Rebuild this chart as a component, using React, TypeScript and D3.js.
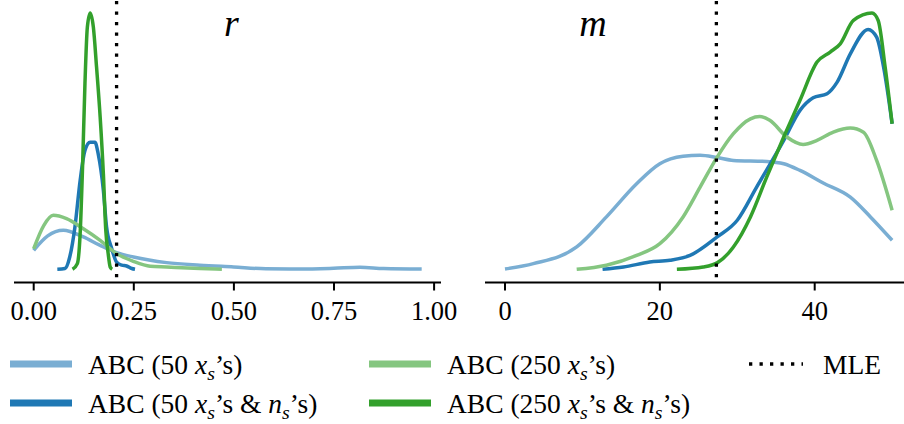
import React from "react";
import * as d3 from "d3";

// ---------- data ----------
const seriesLabels = ["ABC (50 xs's)", "ABC (50 xs's & ns's)", "ABC (250 xs's)", "ABC (250 xs's & ns's)"];
const seriesCounts = ["50", "50", "250", "250"];
const seriesWithN = [false, true, false, true];
const seriesColors = ["#7aaed3", "#1f78b4", "#85c680", "#33a02c"];

const rTicks = [0, 0.25, 0.5, 0.75, 1.0];
const mTicks = [0, 20, 40];
const rMLE = 0.207;
const mMLE = 27.3;

// panel r
const rA_x = [0, 0.035, 0.074, 0.124, 0.166, 0.207, 0.249, 0.332, 0.415, 0.499, 0.58, 0.665, 0.749, 0.815, 0.874, 0.969];
const rA_y = [7.4, 13.0, 15.2, 12.6, 9.3, 6.5, 4.8, 2.6, 1.6, 0.9, 0.2, 0.1, 0.4, 0.8, 0.3, 0.1];
const rB_x = [0.059, 0.078, 0.09, 0.103, 0.116, 0.128, 0.141, 0.153, 0.161, 0.174, 0.182, 0.195, 0.207, 0.22, 0.232, 0.245, 0.253];
const rB_y = [0, 0.3, 4.8, 16.5, 34.6, 46.3, 49.5, 49.5, 45, 30.7, 16.5, 8.0, 2.8, 1.6, 1.3, 0.3, 0];
const rC_x = [0, 0.025, 0.049, 0.082, 0.124, 0.166, 0.207, 0.249, 0.291, 0.332, 0.415, 0.47];
const rC_y = [8.0, 17.0, 21, 19.7, 15.8, 11.3, 6.1, 3.1, 1.2, 0.9, 0.3, 0];
const rD_x = [0.097, 0.109, 0.116, 0.122, 0.128, 0.134, 0.141, 0.149, 0.157, 0.166, 0.174, 0.18, 0.186, 0.191, 0.196];
const rD_y = [0, 2.2, 13.9, 39.8, 72.3, 94.3, 99.8, 94.3, 78.7, 59.3, 37.2, 15.2, 6.1, 0.9, 0];

// panel m
const mA_x = [0, 3.66, 9.26, 13.1, 17.0, 20.0, 23.0, 25.2, 27.4, 29.5, 33.8, 36.0, 38.1, 41.1, 44.6, 47.2, 50.0];
const mA_y = [0.1, 2.2, 8.7, 20.4, 33.3, 41.1, 44, 44.4, 43.5, 42.4, 42, 41.1, 38.5, 33.6, 28.1, 20.4, 11.3];
const mB_x = [12.6, 15.3, 18.7, 21.3, 23.9, 27.4, 30.0, 32.5, 36.0, 38.1, 39.8, 41.6, 42.9, 44.6, 46.9, 48.0, 48.9, 50.0];
const mB_y = [0, 0.9, 2.8, 3.5, 5.4, 12.6, 19.1, 32, 50.2, 61.9, 66.8, 68.4, 72.9, 83.9, 93.4, 90.4, 78.7, 56.7];
const mC_x = [9.26, 13.1, 17.0, 20.0, 23.0, 25.2, 27.4, 29.5, 31.7, 32.9, 34.2, 36.4, 38.5, 40.3, 42.4, 44.6, 46.3, 48.0, 50.0];
const mC_y = [0, 1.6, 5.4, 10, 20.4, 32, 43.7, 52.8, 58.6, 59.5, 58, 51.5, 48.6, 50.2, 53.4, 55, 53.4, 42.4, 23];
const mD_x = [22.2, 25.6, 27.4, 29.5, 31.7, 33.8, 36.0, 38.1, 40.3, 42.0, 43.3, 45.0, 47.4, 48.2, 49.1, 50.0];
const mD_y = [0, 0.9, 2.5, 8.7, 20.4, 35.9, 51.5, 65.8, 80.7, 84.6, 87.8, 96.9, 99.8, 96.9, 78.7, 56.7];

const rSeries = [[rA_x, rA_y], [rB_x, rB_y], [rC_x, rC_y], [rD_x, rD_y]];
const mSeries = [[mA_x, mA_y], [mB_x, mB_y], [mC_x, mC_y], [mD_x, mD_y]];

// ---------- layout ----------
const W = 904;
const H = 424;
const FONT = "'Liberation Serif', 'Times New Roman', serif";
const axisY = 282.5;

const xR = d3.scaleLinear().domain([0, 1]).range([33.7, 434.1]);
const xM = d3.scaleLinear().domain([0, 40]).range([505, 814.7]);
const yS = d3.scaleLinear().domain([0, 100]).range([269.3, 12.5]);

function Label({ count, withN }: { count: string; withN: boolean }) {
  return (
    <>
      <tspan>{`ABC (${count} `}</tspan>
      <tspan fontStyle="italic">x</tspan>
      <tspan fontStyle="italic" fontSize="0.72em" dy={6}>s</tspan>
      <tspan dy={-6}>{withN ? "’s & " : "’s)"}</tspan>
      {withN && (
        <>
          <tspan fontStyle="italic">n</tspan>
          <tspan fontStyle="italic" fontSize="0.72em" dy={6}>s</tspan>
          <tspan dy={-6}>’s)</tspan>
        </>
      )}
    </>
  );
}

function Panel({ x, series, ticks, fmt, mle, axisRange, title, titleX }: any) {
  const line = (xs: number[], ys: number[]) =>
    d3
      .line<number>()
      .x((_, i) => x(xs[i]))
      .y((d) => yS(d))
      .curve(d3.curveMonotoneX)(ys) as string;
  return (
    <g>
      <text x={titleX} y={36} fontFamily={FONT} fontStyle="italic" fontSize={38} textAnchor="middle">
        {title}
      </text>
      {series.map((s: number[][], i: number) => (
        <path key={i} d={line(s[0], s[1])} fill="none" stroke={seriesColors[i]} strokeWidth={3.5} strokeLinejoin="round" />
      ))}
      <line x1={x(mle)} x2={x(mle)} y1={1} y2={axisY} stroke="#000" strokeWidth={3.3} strokeDasharray="3.3 7.2" />
      <line x1={axisRange[0]} x2={axisRange[1]} y1={axisY} y2={axisY} stroke="#000" strokeWidth={2} />
      {ticks.map((t: number) => (
        <g key={t} transform={`translate(${x(t)},0)`}>
          <line y1={axisY} y2={axisY + 8} stroke="#000" strokeWidth={2} />
          <text y={320} textAnchor="middle" fontFamily={FONT} fontSize={26.5}>
            {fmt(t)}
          </text>
        </g>
      ))}
    </g>
  );
}

export default function App() {
  const legendCols = [10, 369];
  const legendRows = [364, 403];
  return (
    <svg width={W} height={H} style={{ display: "block", position: "absolute", left: 0, top: 0, background: "#fff" }}>
      <Panel x={xR} series={rSeries} ticks={rTicks} fmt={(t: number) => t.toFixed(2)} mle={rMLE} axisRange={[14, 441]} title="r" titleX={231.5} />
      <Panel x={xM} series={mSeries} ticks={mTicks} fmt={(t: number) => String(t)} mle={mMLE} axisRange={[485, 904]} title="m" titleX={593} />
      {seriesLabels.map((_, i) => {
        const cx = legendCols[Math.floor(i / 2)];
        const cy = legendRows[i % 2];
        return (
          <g key={i}>
            <line x1={cx} x2={cx + 62} y1={cy} y2={cy} stroke={seriesColors[i]} strokeWidth={7} />
            <text x={cx + 78} y={cy + 10} fontFamily={FONT} fontSize={27.5}>
              <Label count={seriesCounts[i]} withN={seriesWithN[i]} />
            </text>
          </g>
        );
      })}
      <line x1={749} x2={803} y1={364} y2={364} stroke="#000" strokeWidth={3.3} strokeDasharray="3.3 7.2" />
      <text x={823} y={374} fontFamily={FONT} fontSize={27.5}>MLE</text>
    </svg>
  );
}
